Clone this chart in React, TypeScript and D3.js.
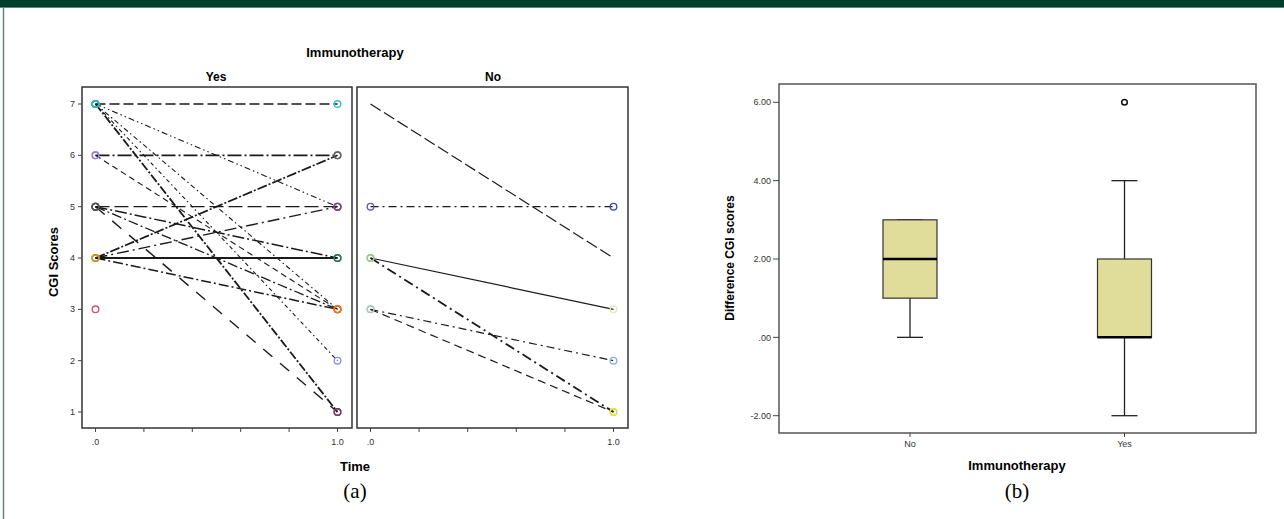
import * as d3 from "d3"

// panel (a): CGI score per patient at time .0 and 1.0
const timeTicks = [0, 0.2, 0.4, 0.6, 0.8, 1]
const cgiTicks = [1, 2, 3, 4, 5, 6, 7]
const yesBefore = [7, 7, 7, 7, 7, 6, 6, 5, 5, 5, 5, 4, 4, 4, 4, 3]
const yesAfter = [7, 5, 3, 2, 1, 6, 3, 5, 4, 3, 1, 4, 6, 5, 3, null]
const noBefore = [7, 5, 4, 4, 3, 3]
const noAfter = [4, 5, 3, 1, 2, 1]

// panel (b): box plot of differences
const groups = ["No", "Yes"]
const diffMin = [0, -2]
const diffQ1 = [1, 0]
const diffMedian = [2, 0]
const diffQ3 = [3, 2]
const diffMax = [3, 4]
const diffOutliers = [[], [6]]
const diffTicks = [-2, 0, 2, 4, 6]

// styles
const yesDash = ["10,4", "6,3,1.5,3,1.5,3", "5,3,1.5,3", "4,3,1.5,3", "9,2,2,2", "14,3,2,3", "6,4", "14,5", "12,3,2,3", "10,3,2,3", "12,10", "", "10,2,2,2", "12,4,2,4", "10,3,2,3", ""]
const yesWidth = [1.3, 1.1, 1.1, 1.1, 1.8, 1.6, 1.1, 1.4, 1.5, 1.3, 1.4, 2.2, 1.7, 1.4, 1.5, 1]
const noDash = ["12,4", "8,4,2,4", "", "10,4,2,4", "8,4,2,4", "8,5"]
const noWidth = [1.2, 1.2, 1.2, 1.8, 1.2, 1.2]
const yesStartColor: Record<number, string> = { 7: "#2fb5b5", 6: "#9a7fd8", 5: "#555555", 4: "#c8982a", 3: "#e0506a" }
const yesEndColor: Record<number, string> = { 7: "#3cc0c8", 6: "#666666", 5: "#7a4a7a", 4: "#2a7a50", 3: "#f07020", 2: "#8f8ff0", 1: "#704060" }
const noStartColor: Record<number, string> = { 5: "#5560c0", 4: "#a0c880", 3: "#a8ccc4" }
const noEndColor: Record<number, string> = { 5: "#4050b0", 3: "#e6e6c0", 2: "#90b0e0", 1: "#e0e040" }

const font = "Arial, 'Liberation Sans', sans-serif"
const frameColor = "#333"
const tickColor = "#444"

function Panel({ left, right, before, after, dash, widths, startColor, endColor, yScale }: any) {
    const x = d3.scaleLinear().domain([0, 1]).range([left + 13.5, right - 14.5])
    const line = d3.line()
    return (
        <g>
            {before.map((b: number, i: number) =>
                after[i] == null ? null : (
                    <path
                        key={i}
                        d={line([[x(0), yScale(b)], [x(1), yScale(after[i])]]) || ""}
                        stroke="#1a1a1a"
                        strokeWidth={widths[i]}
                        strokeDasharray={dash[i]}
                        fill="none"
                    />
                )
            )}
            {before.map((b: number, i: number) =>
                startColor[b] ? (
                    <circle key={"s" + i} cx={x(0)} cy={yScale(b)} r={3.3} fill="none" stroke={startColor[b]} strokeWidth={1.4} />
                ) : null
            )}
            {after.map((a: number | null, i: number) =>
                a != null && endColor[a] ? (
                    <circle key={"e" + i} cx={x(1)} cy={yScale(a)} r={3.3} fill="none" stroke={endColor[a]} strokeWidth={1.4} />
                ) : null
            )}
            <rect x={left} y={87} width={right - left} height={341} fill="none" stroke={frameColor} strokeWidth={1.5} />
            {timeTicks.map((t) => (
                <g key={t} transform={`translate(${x(t)},428)`}>
                    <line y2={4} stroke={tickColor} />
                    {(t === 0 || t === 1) && (
                        <text y={17} textAnchor="middle" fontSize={9} fill="#333" fontFamily={font}>
                            {t === 0 ? ".0" : "1.0"}
                        </text>
                    )}
                </g>
            ))}
        </g>
    )
}

export default function App() {
    const yCgi = d3.scaleLinear().domain([1, 7]).range([412, 104])

    // box plot scales
    const yDiff = d3.scaleLinear().domain([-2, 6]).range([415.7, 102.3])
    const xBox = d3.scalePoint().domain(groups).range([910, 1124.5])
    const boxW = 54
    const capW = 26

    return (
        <svg width={1284} height={519} style={{ position: "absolute", left: 0, top: 0, background: "#fff" }}>
            {/* page decoration */}
            <rect x={0} y={0} width={1284} height={7} fill="#003f2b" />
            <line x1={0} x2={1284} y1={7.5} y2={7.5} stroke="#5d8a78" strokeWidth={1} />
            <line x1={3.5} x2={3.5} y1={7} y2={519} stroke="#5d8a78" strokeWidth={1.5} />

            {/* (a) */}
            <text x={355} y={57} textAnchor="middle" fontSize={13} fontWeight="bold" fontFamily={font}>Immunotherapy</text>
            <text x={216} y={81} textAnchor="middle" fontSize={12} fontWeight="bold" fontFamily={font}>Yes</text>
            <text x={493} y={81} textAnchor="middle" fontSize={12} fontWeight="bold" fontFamily={font}>No</text>

            <Panel left={82} right={352} before={yesBefore} after={yesAfter} dash={yesDash} widths={yesWidth}
                startColor={yesStartColor} endColor={yesEndColor} yScale={yCgi} />
            <Panel left={357} right={628} before={noBefore} after={noAfter} dash={noDash} widths={noWidth}
                startColor={noStartColor} endColor={noEndColor} yScale={yCgi} />

            {cgiTicks.map((t) => (
                <g key={t} transform={`translate(82,${yCgi(t)})`}>
                    <line x1={-4} x2={0} stroke={tickColor} />
                    <text x={-7} dy="0.35em" textAnchor="end" fontSize={9} fill="#333" fontFamily={font}>{t}</text>
                </g>
            ))}
            <text transform="translate(58,262) rotate(-90)" textAnchor="middle" fontSize={13} fontWeight="bold" fontFamily={font}>CGI Scores</text>
            <text x={355} y={471} textAnchor="middle" fontSize={13} fontWeight="bold" fontFamily={font}>Time</text>
            <text x={355} y={498} textAnchor="middle" fontSize={21} fontFamily="'Liberation Serif', 'DejaVu Serif', serif">(a)</text>

            {/* (b) */}
            <rect x={779} y={84} width={477} height={349} fill="none" stroke="#555" strokeWidth={1.5} />
            {diffTicks.map((t) => (
                <g key={t} transform={`translate(779,${yDiff(t)})`}>
                    <line x1={-6} x2={0} stroke={tickColor} />
                    <text x={-8} dy="0.35em" textAnchor="end" fontSize={9} fill="#333" fontFamily={font}>
                        {t === 0 ? ".00" : t.toFixed(2)}
                    </text>
                </g>
            ))}
            {groups.map((g, i) => {
                const cx = xBox(g) as number
                return (
                    <g key={g}>
                        <line x1={cx} x2={cx} y1={yDiff(diffMax[i])} y2={yDiff(diffQ3[i])} stroke="#222" strokeWidth={1.3} />
                        <line x1={cx} x2={cx} y1={yDiff(diffQ1[i])} y2={yDiff(diffMin[i])} stroke="#222" strokeWidth={1.3} />
                        <line x1={cx - capW / 2} x2={cx + capW / 2} y1={yDiff(diffMax[i])} y2={yDiff(diffMax[i])} stroke="#222" strokeWidth={1.3} />
                        <line x1={cx - capW / 2} x2={cx + capW / 2} y1={yDiff(diffMin[i])} y2={yDiff(diffMin[i])} stroke="#222" strokeWidth={1.3} />
                        <rect x={cx - boxW / 2} y={yDiff(diffQ3[i])} width={boxW} height={yDiff(diffQ1[i]) - yDiff(diffQ3[i])}
                            fill="#e0dc9a" stroke="#333" strokeWidth={1.2} />
                        <line x1={cx - boxW / 2} x2={cx + boxW / 2} y1={yDiff(diffMedian[i])} y2={yDiff(diffMedian[i])} stroke="#000" strokeWidth={2.5} />
                        {diffOutliers[i].map((o, j) => (
                            <circle key={j} cx={cx} cy={yDiff(o)} r={2.8} fill="none" stroke="#111" strokeWidth={1.5} />
                        ))}
                        <line x1={cx} x2={cx} y1={433} y2={437} stroke={tickColor} />
                        <text x={cx} y={447} textAnchor="middle" fontSize={9} fill="#333" fontFamily={font}>{g}</text>
                    </g>
                )
            })}
            <text transform="translate(734,258) rotate(-90)" textAnchor="middle" fontSize={12} fontWeight="bold" fontFamily={font}>Difference CGI scores</text>
            <text x={1017} y={470} textAnchor="middle" fontSize={13} fontWeight="bold" fontFamily={font}>Immunotherapy</text>
            <text x={1017} y={498} textAnchor="middle" fontSize={21} fontFamily="'Liberation Serif', 'DejaVu Serif', serif">(b)</text>
        </svg>
    )
}
